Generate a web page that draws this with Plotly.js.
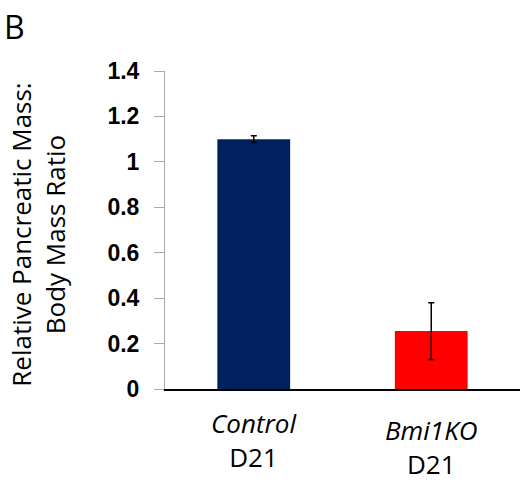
<!DOCTYPE html>
<html>
<head>
<meta charset="utf-8">
<script src="https://cdn.plot.ly/plotly-3.0.1.min.js"></script>
<style>html,body{margin:0;padding:0;background:#fff;}#chart{width:525px;height:484px;}</style>
</head>
<body>
<div id="chart"></div>
<script>
var categories = ["Control", "Bmi1KO"];
var labelLine1 = ["Control", "Bmi1KO"];
var labelLine2 = ["D21", "D21"];
var values = [1.10, 0.255];
var errors = [0.015, 0.125];
var barColors = ["#002060", "#FF0000"];
var yTickVals = [0, 0.2, 0.4, 0.6, 0.8, 1, 1.2, 1.4];
var yTickText = ["0", "0.2", "0.4", "0.6", "0.8", "1", "1.2", "1.4"];

var labelShift = [0, 7];
var annotations = [];
for (var i = 0; i < categories.length; i++) {
  annotations.push({
    x: categories[i], y: 0, xref: "x", yref: "y",
    yanchor: "top", xanchor: "center", showarrow: false,
    yshift: -15 - labelShift[i], borderpad: 0,
    text: "<i>" + labelLine1[i] + "</i><br>" + labelLine2[i],
    font: {family: "Open Sans, sans-serif", size: 26, color: "#000"},
    align: "center"
  });
}
annotations.push({
  xref: "paper", yref: "paper", x: (38 - 165) / 355, y: 0.485,
  xanchor: "center", yanchor: "middle", showarrow: false, textangle: -90,
  text: "Relative Pancreatic Mass:<br>Body Mass Ratio",
  font: {family: "Open Sans, sans-serif", size: 26, color: "#000"}
});
annotations.push({
  xref: "paper", yref: "paper", x: (2 - 165) / 355, y: 1 + 68 / 318,
  xanchor: "left", yanchor: "top", showarrow: false,
  text: "B",
  font: {family: "Open Sans, sans-serif", size: 32, color: "#000"}
});

var trace = {
  type: "bar",
  x: categories,
  y: values,
  marker: {color: barColors, line: {width: 0}},
  width: 0.41,
  error_y: {type: "data", array: errors, visible: true, color: "#000", thickness: 1.5, width: 3}
};

var layout = {
  width: 525, height: 484,
  margin: {l: 165, r: 5, t: 71, b: 95},
  paper_bgcolor: "#fff", plot_bgcolor: "#fff",
  showlegend: false,
  xaxis: {
    range: [-0.5, 1.5], showticklabels: false, ticks: "",
    showline: true, linecolor: "#000", linewidth: 1.5, showgrid: false, zeroline: false,
    fixedrange: true
  },
  yaxis: {
    range: [0, 1.4], tickvals: yTickVals, ticktext: yTickText,
    ticks: "outside", ticklen: 10, tickcolor: "#aaa", tickwidth: 1,
    showline: true, linecolor: "#aaa", linewidth: 1,
    showgrid: false, zeroline: false,
    tickfont: {family: "Liberation Sans, Arial, sans-serif", size: 23, color: "#000", weight: "bold"},
    ticklabelstandoff: 10
  },
  annotations: annotations
};

Plotly.newPlot("chart", [trace], layout, {displayModeBar: false, staticPlot: true});
</script>
</body>
</html>
